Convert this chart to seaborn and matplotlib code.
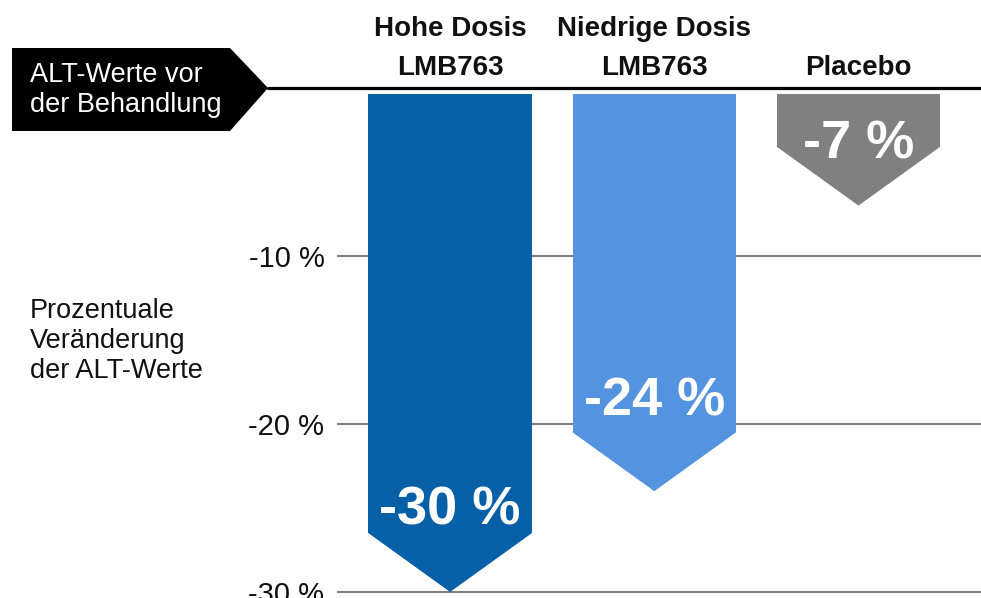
import matplotlib.pyplot as plt
from matplotlib.patches import Polygon
from matplotlib.lines import Line2D
import pandas as pd
import seaborn as sns

# Daten
gruppen = ["Hohe Dosis\nLMB763", "Niedrige Dosis\nLMB763", "Placebo"]
veraenderung = [-30, -24, -7]
farben = ["#0660A8", "#5393DF", "#808080"]
wert_labels = ["-30 %", "-24 %", "-7 %"]
y_ticks = [-10, -20, -30]
y_tick_labels = ["-10 %", "-20 %", "-30 %"]

# Layout
spitze = 3.5          # Höhe der Pfeilspitze in %-Punkten
abstand = 0.37        # kleiner Abstand zwischen Nulllinie und Balken
label_basis = [-26.0, -19.5, -4.2]   # Grundlinie der Wertebeschriftung

sns.set_theme(style="white")
plt.rcParams["font.family"] = ["Liberation Sans", "DejaVu Sans"]

W, H = 981, 598
fig = plt.figure(figsize=(W / 100, H / 100), dpi=100)
ax = fig.add_axes([337 / W, 0, 1 - 337 / W, (H - 88) / H])

df = pd.DataFrame({"gruppe": gruppen, "rumpf": [v + spitze for v in veraenderung]})
sns.barplot(data=df, x="gruppe", y="rumpf", hue="gruppe", palette=farben,
            width=0.8, saturation=1, legend=False, ax=ax, zorder=3)

# Balken zu Pfeilen nach unten umbauen
for p, v, c in zip(ax.patches, veraenderung, farben):
    x0, w, h = p.get_x(), p.get_width(), p.get_height()
    p.set_y(-abstand)
    p.set_height(h + abstand)
    p.set_linewidth(0)
    ueber = h + 0.08  # leichte Überlappung gegen Naht
    ax.add_patch(Polygon([(x0, ueber), (x0 + w, ueber), (x0 + w, h),
                          (x0 + w / 2, v), (x0, h)],
                         closed=True, facecolor=c, edgecolor="none", zorder=3))

ax.set_xlim(-0.554, 2.60)
ax.set_ylim(-30.36, 0)
ax.set_yticks(y_ticks)
ax.set_yticklabels(y_tick_labels, fontsize=21, color="#111111")
ax.tick_params(axis="y", length=0, pad=9)
ax.set_xticks([])
ax.set_xlabel("")
ax.set_ylabel("")
ax.yaxis.grid(True, color="#808080", linewidth=1.5)
ax.set_axisbelow(True)
sns.despine(ax=ax, left=True, bottom=True)

# Gruppenbeschriftung oben
for i, g in enumerate(gruppen):
    ax.text(i, 0.4, g, ha="center", va="bottom", fontsize=20,
            fontweight="bold", color="#111111", linespacing=1.65, clip_on=False)

# Werte in den Pfeilen
for i, (t, yb) in enumerate(zip(wert_labels, label_basis)):
    ax.text(i, yb, t, ha="center", va="baseline", fontsize=39,
            fontweight="bold", color="white", zorder=5)

# Nulllinie + schwarzes Etikett links
fig.add_artist(Line2D([268 / W, 1], [1 - 88 / H, 1 - 88 / H], color="black",
                      linewidth=2.3))
etikett = [(12, 48), (230, 48), (268, 88), (230, 131), (12, 131)]
fig.add_artist(Polygon([(x / W, 1 - y / H) for x, y in etikett], closed=True,
                       facecolor="black", edgecolor="none",
                       transform=fig.transFigure))
fig.text(30 / W, 1 - 90 / H, "ALT-Werte vor\nder Behandlung", color="white",
         fontsize=19.5, ha="left", va="center", linespacing=1.15)

fig.text(30 / W, 1 - 341 / H, "Prozentuale\nVeränderung\nder ALT-Werte",
         color="#111111", fontsize=19.5, ha="left", va="center", linespacing=1.2)

fig.savefig("out.png", dpi=100)
